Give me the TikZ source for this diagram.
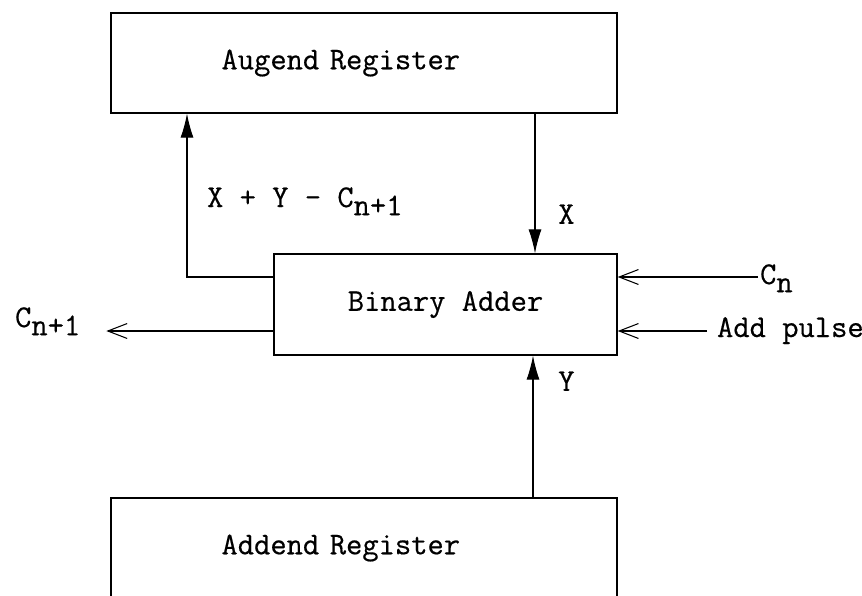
\documentclass[tikz,border=0pt]{standalone}
\usepackage{fontspec}
\setmonofont{Latin Modern Mono}[FakeBold=0.5]
\usepackage{tikz}
\usetikzlibrary{arrows.meta, positioning, calc}
\newcommand{\subtt}[1]{\raisebox{-0.6ex}{#1}}

\begin{document}
\begin{tikzpicture}[
  x = 0.02cm, y = -0.02cm,
  register/.style = {rectangle, draw, line width=0.8pt,
                     minimum width=10.12cm, minimum height=2cm,
                     text width=5.7cm, align=left,
                     font=\fontsize{18}{21}\selectfont\ttfamily},
  adderbox/.style = {rectangle, draw, line width=0.8pt,
                     minimum width=6.86cm, minimum height=2.02cm,
                     font=\fontsize{18}{21}\selectfont\ttfamily},
  sig/.style      = {font=\fontsize{18}{21}\selectfont\ttfamily, inner sep=1pt},
  fillarr/.style  = {-{Latex[length=13.6pt, width=7.4pt]}, line width=0.6pt},
  barbarr/.style  = {-{Straight Barb[length=11pt, width=8.5pt]}, line width=0.6pt},
]
\clip (0,0) rectangle (862,595);

%% Registers and adder
\node[register] (augend) at (364,63)    {Augend Register};
\node[adderbox] (adder)  at (445.5,304.5) {Binary Adder};
\node[register] (addend) at (364,548)   {Addend Register};

%% Columns and rows for the signal lines
\coordinate (xcol)  at (535,0);
\coordinate (ycol)  at (533,0);
\coordinate (fbcol) at (187,0);
\coordinate (rowA)  at (0,277);
\coordinate (rowB)  at (0,331);

%% Operands into the adder
\draw[fillarr] (augend.south -| xcol) -- node[sig, pos=0.72, right=0.42cm] {X} (adder.north -| xcol);
\draw[fillarr] (addend.north -| ycol) -- node[sig, pos=0.82, right=0.46cm] {Y} (adder.south -| ycol);

%% Sum back into the augend register
\draw[fillarr] (adder.west |- rowA) -| (augend.south -| fbcol);
\node[sig, anchor=base west] (sum) at (205,207) {X + Y - C\subtt{n+1}};

%% Carry and pulse lines
\node[sig, anchor=base west] (carryout) at (13,327)  {C\subtt{n+1}};
\node[sig, anchor=base west] (carryin)  at (758,284) {C\subtt{n}};
\node[sig, anchor=base west] (pulse)    at (715,337) {Add pulse};

\draw[barbarr, shorten >=0.48cm] (adder.west |- rowB) -- (carryout.east |- rowB);
\draw[barbarr] (carryin.west |- rowA) -- (adder.east |- rowA);
\draw[barbarr] ([xshift=-0.16cm]pulse.west |- rowB) -- (adder.east |- rowB);

\end{tikzpicture}
\end{document}
